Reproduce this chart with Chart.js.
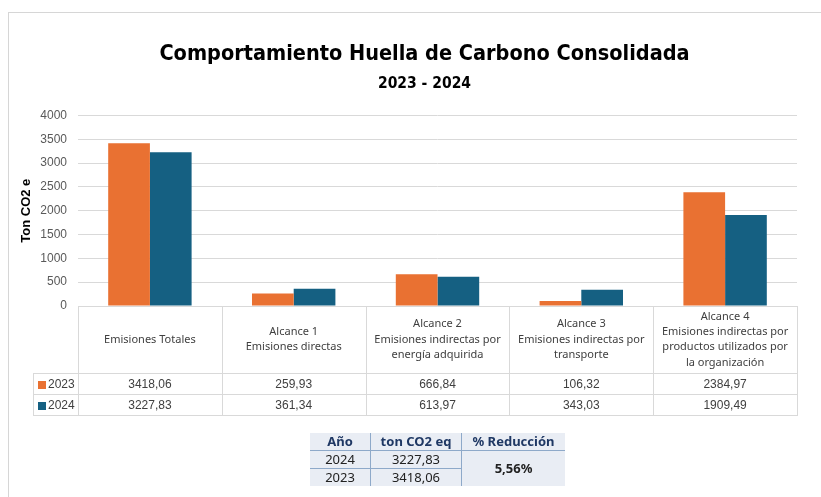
<!DOCTYPE html>
<html lang="es">
<head>
<meta charset="utf-8">
<title>Comportamiento Huella de Carbono Consolidada</title>
<script src="https://cdn.jsdelivr.net/npm/chart.js@4.4.1/dist/chart.umd.min.js"></script>
<style>
  html, body { margin: 0; padding: 0; background: #fff; }
  body { width: 821px; height: 497px; position: relative; overflow: hidden; }
  #frame { position: absolute; left: 8px; top: 12px; width: 840px; height: 500px;
           border-top: 1px solid #d6d6d6; border-left: 1px solid #d6d6d6; }
  #chart { position: absolute; left: 0; top: 0; }
  #summary { position: absolute; left: 310px; top: 433px; border-collapse: collapse;
             background: #e9edf4; font-family: 'Noto Sans', 'Open Sans', sans-serif;
             font-size: 13px; color: #222; }
  #summary th, #summary td { padding: 0; height: 17px; line-height: 17px; text-align: center; }
  #summary th { color: #1f3864; font-weight: bold; border-bottom: 1px solid #8ea9c9; }
  #summary .sep { border-left: 1px solid #8ea9c9; }
  #summary .rowsep { border-bottom: 1px solid #8ea9c9; }
  #summary .red { font-weight: bold; }
</style>
</head>
<body>
<div id="frame"></div>
<canvas id="chart" width="821" height="497"></canvas>
<table id="summary"></table>
<script>
// datos
const categories = [
    ['Emisiones Totales'],
    ['Alcance 1', 'Emisiones directas'],
    ['Alcance 2', 'Emisiones indirectas por', 'energía adquirida'],
    ['Alcance 3', 'Emisiones indirectas por', 'transporte'],
    ['Alcance 4', 'Emisiones indirectas por', 'productos utilizados por', 'la organización']
];
const seriesNames = ['2023', '2024'];
const values2023 = [3418.06, 259.93, 666.84, 106.32, 2384.97];
const values2024 = [3227.83, 361.34, 613.97, 343.03, 1909.49];
const seriesColors = ['#E97132', '#156082'];
const yMax = 4000;
const yStep = 500;

// tabla resumen
const summaryHeaders = ['Año', 'ton CO2 eq', '% Reducción'];
const summaryYears = ['2024', '2023'];
const summaryTotals = [3227.83, 3418.06];
const summaryReduction = '5,56%';

const fmt = v => v.toFixed(2).replace('.', ',');
const narrow = "'Liberation Sans Narrow', 'DejaVu Sans Condensed', sans-serif";

// el título de Excel queda centrado algo más a la derecha
const titleShift = {
    id: 'titleShift',
    afterLayout(chart) {
        chart.boxes.forEach(b => {
            if (b.position === 'top' && b.options && b.options.text) b.left += 40;
        });
    }
};

// Tabla de datos bajo el gráfico (como la de Excel)
const dataTablePlugin = {
    id: 'dataTable',
    afterDraw(chart) {
        const { ctx, chartArea } = chart;
        const x = chart.scales.x;
        const n = categories.length;
        const colW = (x.right - x.left) / n;
        const top = Math.round(chartArea.bottom);
        const headerH = 67, rowH = 21;
        const legendLeft = 33;
        const right = Math.round(x.right);
        const rows = [values2023, values2024];

        ctx.save();
        ctx.strokeStyle = '#d9d9d9';
        ctx.lineWidth = 1;
        ctx.beginPath();
        ctx.moveTo(x.left, top + 0.5); ctx.lineTo(right, top + 0.5);
        for (let r = 0; r <= rows.length; r++) {
            const y = top + headerH + r * rowH + 0.5;
            ctx.moveTo(legendLeft, y); ctx.lineTo(right, y);
        }
        const bottom = top + headerH + rows.length * rowH;
        for (let i = 0; i <= n; i++) {
            const xx = Math.round(x.left + i * colW) + 0.5;
            ctx.moveTo(xx, top); ctx.lineTo(xx, bottom + 1);
        }
        ctx.moveTo(legendLeft + 0.5, top + headerH); ctx.lineTo(legendLeft + 0.5, bottom + 1);
        ctx.stroke();

        // encabezados de categoría
        ctx.fillStyle = '#404040';
        ctx.textAlign = 'center';
        ctx.textBaseline = 'middle';
        ctx.font = "11px 'Noto Sans', 'Open Sans', sans-serif";
        const lh = 15.3;
        categories.forEach((lines, i) => {
            const cx = x.getPixelForValue(i);
            const cy = top + headerH / 2 - (lines.length - 1) * lh / 2;
            lines.forEach((t, k) => ctx.fillText(t, cx, cy + k * lh));
        });

        // valores
        ctx.font = "12px 'Liberation Sans', Arial, sans-serif";
        rows.forEach((vals, r) => {
            const cy = top + headerH + r * rowH + rowH / 2 + 1;
            vals.forEach((v, i) => ctx.fillText(fmt(v), x.getPixelForValue(i), cy));
            ctx.fillStyle = seriesColors[r];
            ctx.fillRect(38, Math.round(cy - 4), 8, 8);
            ctx.fillStyle = '#404040';
            ctx.textAlign = 'left';
            ctx.fillText(seriesNames[r], 48, cy);
            ctx.textAlign = 'center';
        });
        ctx.restore();
    }
};

new Chart(document.getElementById('chart'), {
    type: 'bar',
    data: {
        labels: categories,
        datasets: [
            { label: seriesNames[0], data: values2023, backgroundColor: seriesColors[0] },
            { label: seriesNames[1], data: values2024, backgroundColor: seriesColors[1] }
        ]
    },
    options: {
        responsive: false,
        devicePixelRatio: 1,
        animation: false,
        categoryPercentage: 0.58,
        barPercentage: 1.0,
        layout: { padding: { top: 12, left: 12, right: 24, bottom: 191 } },
        plugins: {
            legend: { display: false },
            title: {
                display: true,
                text: 'Comportamiento Huella de Carbono Consolidada',
                color: '#000',
                font: { family: narrow, size: 21.5, weight: 'bold' },
                padding: { top: 30, bottom: 3 }
            },
            subtitle: {
                display: true,
                text: '2023 - 2024',
                color: '#000',
                font: { family: narrow, size: 15.5, weight: 'bold' },
                padding: { top: 4, bottom: 22 }
            },
            tooltip: {
                callbacks: {
                    title: items => items[0].label.replace(/,/g, ' '),
                    label: c => `${c.dataset.label}: ${fmt(c.parsed.y)}`
                }
            }
        },
        scales: {
            x: {
                ticks: { display: false },
                grid: { display: false },
                border: { display: false },
                afterFit: s => { s.height = 0; }
            },
            y: {
                min: 0,
                max: yMax,
                ticks: {
                    stepSize: yStep,
                    color: '#595959',
                    padding: 11,
                    font: { family: "'Liberation Sans', Arial, sans-serif", size: 12 },
                    callback: v => String(v)
                },
                grid: { color: '#d9d9d9', drawTicks: false },
                border: { display: false },
                title: {
                    display: true,
                    text: 'Ton CO2 e',
                    color: '#000',
                    font: { family: "'Liberation Sans', Arial, sans-serif", size: 13, weight: 'bold' },
                    padding: { top: 7, bottom: 0 }
                },
                afterFit: s => { s.width = 66; }
            }
        }
    },
    plugins: [titleShift, dataTablePlugin]
});

// tabla resumen en HTML
(function buildSummary() {
    const t = document.getElementById('summary');
    const widths = [60, 90, 103];
    let html = '<tr>' + summaryHeaders.map((h, i) =>
        `<th class="${i ? 'sep' : ''}" style="width:${widths[i]}px">${h}</th>`).join('') + '</tr>';
    summaryYears.forEach((y, r) => {
        const cls = r === 0 ? 'rowsep' : '';
        html += `<tr><td class="${cls}">${y}</td><td class="sep ${cls}">${fmt(summaryTotals[r])}</td>`;
        if (r === 0) html += `<td class="sep red" rowspan="${summaryYears.length}">${summaryReduction}</td>`;
        html += '</tr>';
    });
    t.innerHTML = html;
})();
</script>
</body>
</html>
